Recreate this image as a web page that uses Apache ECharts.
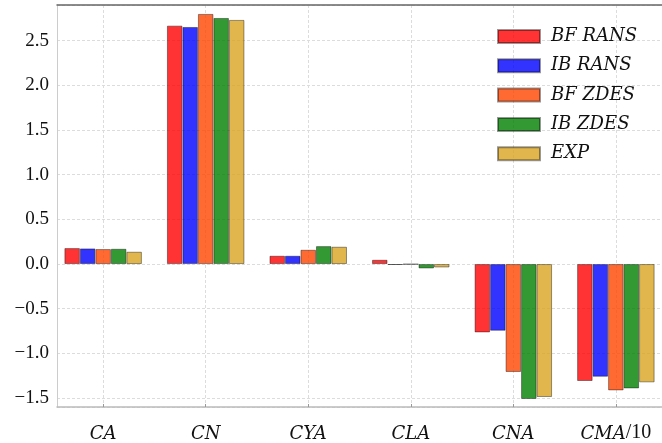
<!DOCTYPE html>
<html>
<head>
<meta charset="utf-8">
<script src="https://cdn.jsdelivr.net/npm/echarts@6/dist/echarts.min.js"></script>
<style>html,body{margin:0;padding:0;background:#fff}#c{width:662px;height:443px}</style>
</head>
<body>
<div id="c"></div>
<script>
const categories = ['CA', 'CN', 'CYA', 'CLA', 'CNA', 'CMA/10'];
const seriesNames = ['BF RANS', 'IB RANS', 'BF ZDES', 'IB ZDES', 'EXP'];
const bfRans = [0.179, 2.669, 0.093, 0.048, -0.765, -1.309];
const ibRans = [0.175, 2.654, 0.093, -0.010, -0.746, -1.261];
const bfZdes = [0.168, 2.800, 0.160, -0.003, -1.208, -1.414];
const ibZdes = [0.171, 2.755, 0.201, -0.049, -1.510, -1.392];
const exp = [0.138, 2.733, 0.194, -0.038, -1.488, -1.324];
const yTicks = [-1.5, -1.0, -0.5, 0.0, 0.5, 1.0, 1.5, 2.0, 2.5];

const colors = ['rgba(255,0,0,0.8)', 'rgba(0,0,255,0.8)', 'rgba(255,69,0,0.8)', 'rgba(0,128,0,0.8)', 'rgba(218,165,32,0.8)'];
const allValues = [bfRans, ibRans, bfZdes, ibZdes, exp];

const chart = echarts.init(document.getElementById('c'), null, {renderer: 'canvas'});
const serif = "'Liberation Serif', serif";
const serifIt = "'DejaVu Serif', serif";
const dash = {color: '#dcdcdc', type: [3, 2], width: 1};

const option = {
  animation: false,
  backgroundColor: '#fff',
  grid: {left: 57, right: -4.5, top: 5, bottom: 35.7, containLabel: false},
  legend: {
    orient: 'vertical', left: 492, top: 22.5, icon: 'rect',
    itemWidth: 42, itemHeight: 13, itemGap: 11.3,
    textStyle: {fontFamily: serifIt, fontStyle: 'italic', fontSize: 18, lineHeight: 18, color: '#111', padding: [0, 0, 0, 6]},
    data: seriesNames
  },
  xAxis: [{
    type: 'value', min: -0.45, max: 5.45, minInterval: 1, maxInterval: 1,
    axisLine: {show: true, onZero: false, lineStyle: {color: '#bbb', width: 1.5}},
    axisTick: {show: true, inside: true, length: 3, lineStyle: {color: '#999'}},
    splitLine: {show: true, lineStyle: dash},
    axisLabel: {
      margin: 14,
      showMinLabel: false, showMaxLabel: false,
      formatter: v => {
        if (!Number.isInteger(v) || v < 0 || v >= categories.length) return '';
        const name = categories[v];
        const idx = name.indexOf('/');
        if (idx >= 0) return '{i|' + name.slice(0, idx) + '}{r|' + name.slice(idx) + '}';
        return '{i|' + name + '}';
      },
      rich: {
        i: {fontFamily: serifIt, fontStyle: 'italic', fontSize: 18, lineHeight: 22, verticalAlign: 'bottom', color: '#111'},
        r: {fontFamily: serif, fontSize: 20, lineHeight: 22, verticalAlign: 'bottom', color: '#111'}
      }
    }
  }, {
    type: 'value', position: 'top', min: -0.45, max: 5.45, minInterval: 1, maxInterval: 1,
    axisLine: {show: true, onZero: false, lineStyle: {color: '#666', width: 1.5}},
    axisTick: {show: false}, axisLabel: {show: false}, splitLine: {show: false}
  }],
  yAxis: {
    type: 'value', min: -1.6, max: 2.9, minInterval: 0.5, maxInterval: 0.5,
    axisLine: {show: true, onZero: false, lineStyle: {color: '#ccc', width: 1}},
    axisTick: {show: false},
    splitLine: {show: true, lineStyle: dash},
    axisLabel: {
      margin: 8, fontFamily: serif, fontSize: 19, color: '#111',
      formatter: v => {
        const t = yTicks.find(x => Math.abs(x - v) < 1e-6);
        if (t === undefined) return '';
        return (t < 0 ? '\u2212' : '') + Math.abs(t).toFixed(1);
      }
    }
  },
  series: seriesNames.map((name, s) => ({
    name: name,
    type: 'bar',
    xAxisIndex: 0,
    barWidth: 15.5,
    barGap: '0%',
    itemStyle: {color: colors[s], borderColor: 'rgba(0,0,0,0.4)', borderWidth: 1},
    data: allValues[s].map((v, i) => [i, v])
  }))
};
chart.setOption(option);
</script>
</body>
</html>
